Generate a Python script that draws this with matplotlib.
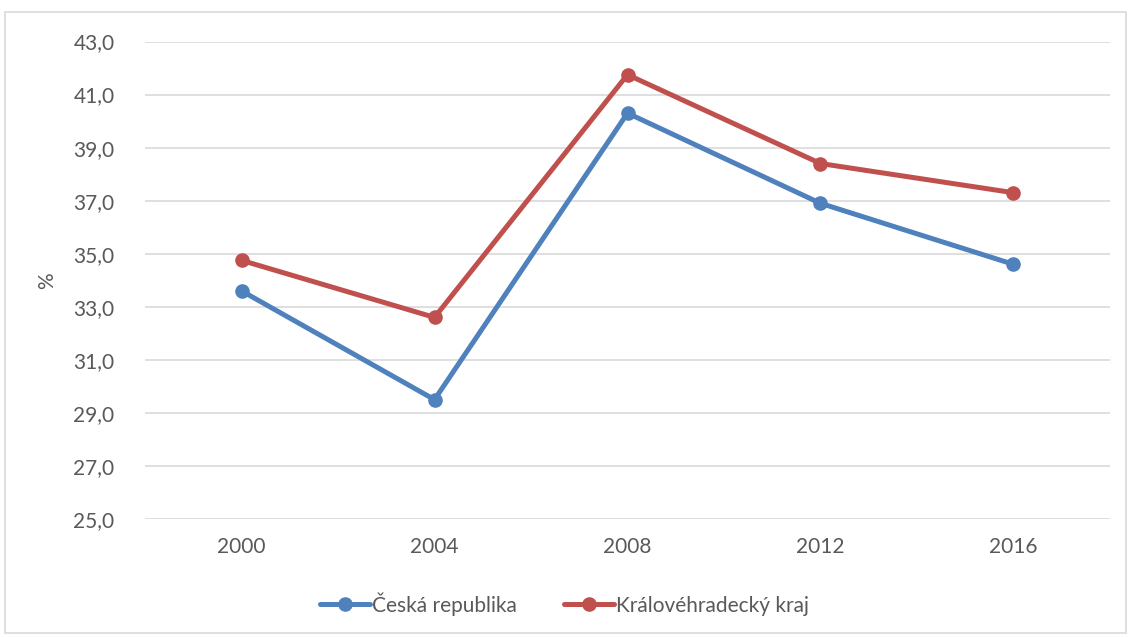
import matplotlib
matplotlib.use("Agg")
import matplotlib.pyplot as plt
from matplotlib.patches import Rectangle
from matplotlib.ticker import FuncFormatter

years = ["2000", "2004", "2008", "2012", "2016"]
cr = [33.6, 29.5, 40.3, 36.9, 34.6]
khk = [34.75, 32.6, 41.75, 38.4, 37.3]
labels = ["Česká republika", "Královéhradecký kraj"]
colors = ["#4F81BD", "#C0504D"]
yticks = [25, 27, 29, 31, 33, 35, 37, 39, 41, 43]

plt.rcParams['font.family'] = ['Lato', 'DejaVu Sans']
text_color = "#595959"

fig = plt.figure(figsize=(11.29, 6.37), dpi=100)
fig.patches.append(Rectangle((5/1129, 1-633/637), 1121/1129, 621/637, transform=fig.transFigure,
                             fill=False, edgecolor="#D9D9D9", linewidth=1.2))
ax = fig.add_axes([145/1129, 1-519/637, (1110-145)/1129, (519-41.5)/637])

x = list(range(len(years)))
for vals, lab, col in zip([cr, khk], labels, colors):
    ax.plot(x, vals, color=col, linewidth=3.6, marker='o', markersize=9.5,
            label=lab, solid_capstyle='round', solid_joinstyle='round')

ax.set_xlim(-0.5, len(years) - 0.5)
ax.set_ylim(25, 43)
ax.set_yticks(yticks)
ax.yaxis.set_major_formatter(FuncFormatter(lambda v, p: f"{v:.1f}".replace(".", ",")))
ax.set_xticks(x)
ax.set_xticklabels(years)
ax.grid(axis='y', color="#D9D9D9", linewidth=1.2)
ax.set_axisbelow(True)
for s in ax.spines.values():
    s.set_visible(False)
ax.tick_params(axis='both', length=0, labelsize=15, colors=text_color)
ax.tick_params(axis='y', pad=22)
ax.tick_params(axis='x', pad=13)
ax.set_ylabel("%", fontsize=15, color=text_color, labelpad=12)

leg = fig.legend(loc='center', bbox_to_anchor=(0.5, 1-604/637), ncol=2, frameon=False,
                 fontsize=15, handlelength=2.4, handletextpad=0.1, columnspacing=2.3)
for t in leg.get_texts():
    t.set_color(text_color)

fig.savefig("out.png", dpi=100)
